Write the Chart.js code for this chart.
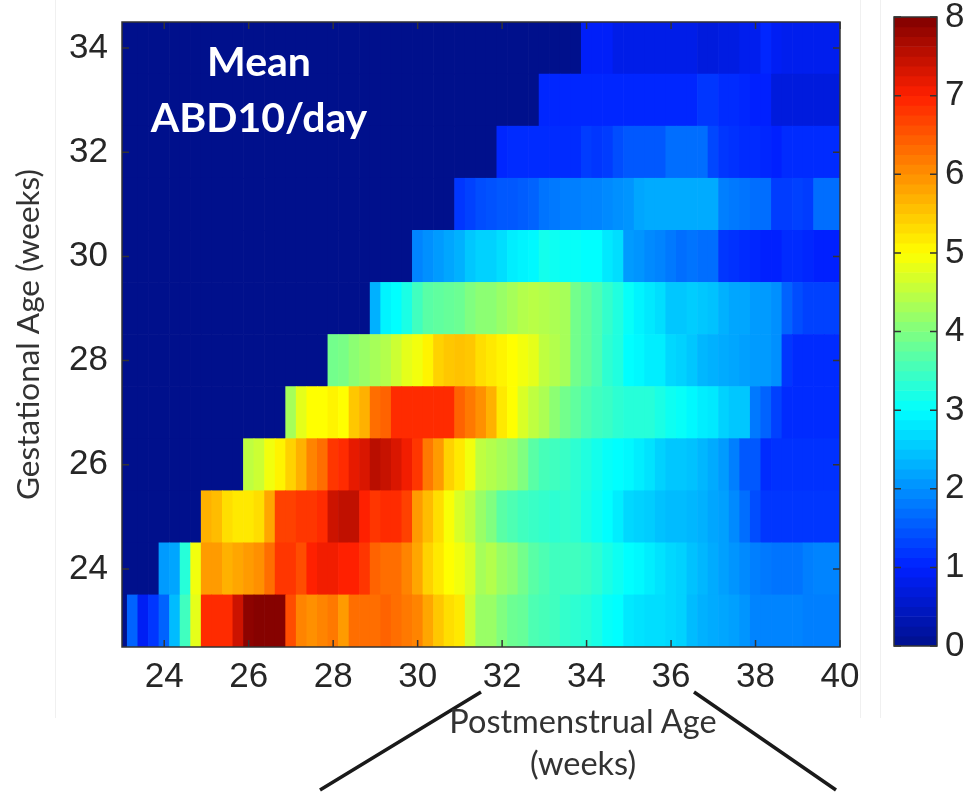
<!DOCTYPE html>
<html>
<head>
<meta charset="utf-8">
<title>Mean ABD10/day</title>
<script src="https://cdn.jsdelivr.net/npm/chart.js@4/dist/chart.umd.min.js"></script>
<style>
    html, body { margin: 0; padding: 0; background: #fff; }
    body { width: 972px; height: 793px; position: relative; overflow: hidden; }
    canvas { position: absolute; top: 0; filter: blur(0.7px); }
    #heatmap { left: 0; }
    #colorbar { left: 860px; }
    .panel { position: absolute; top: 0; height: 718px; border-left: 1px solid #f0f0f0; }
    .note { position: absolute; text-align: center; font-family: Lato, "Open Sans", sans-serif; white-space: nowrap; transform: translate(-50%, -50%); filter: blur(0.4px); }
    .inside { color: #fff; font-size: 41px; font-weight: 700; }
    .under { color: #333; font-size: 32.5px; }
</style>
</head>
<body>
<div class="panel" style="left:55px"></div>
<div class="panel" style="left:860px"></div>
<div class="panel" style="left:880px"></div>
<canvas id="heatmap" width="880" height="793"></canvas>
<canvas id="colorbar" width="112" height="793"></canvas>
<div class="note inside" style="left:259px;top:60px">Mean</div>
<div class="note inside" style="left:259px;top:116px">ABD10/day</div>
<div class="note under" style="left:583px;top:720px">Postmenstrual Age</div>
<div class="note under" style="left:583px;top:762px">(weeks)</div>
<script>
// Postmenstrual age bins, one every quarter week
const pmaBins = [];
for (let w = 23; w <= 40; w += 0.25) pmaBins.push(w);

const xTicks = [24, 26, 28, 30, 32, 34, 36, 38, 40];
const yTicks = [24, 26, 28, 30, 32, 34];
const barTicks = [0, 1, 2, 3, 4, 5, 6, 7, 8];

// Mean ABD10/day by gestational age, each row runs up to week 40
const ga23 = [0, 1.6, 0.9, 1.2, 1.6, 2.4, 3.5, 4.8, 6.9, 6.9,
    6.9, 7.4, 7.9, 7.95, 7.95, 7.95, 6.6, 6.1, 6.0, 6.1,
    6.2, 5.9, 6.3, 6.3, 6.3, 6.4, 6.3, 6.2, 6.1, 5.8,
    5.5, 5.3, 5.2, 4.6, 4.2, 4.2, 4.0, 3.85, 3.8, 3.6,
    3.55, 3.5, 3.4, 3.35, 3.3, 3.2, 3.05, 3.0, 2.8, 2.75,
    2.7, 2.7, 2.65, 2.6, 2.4, 2.3, 2.25, 2.2, 2.15, 2.05,
    1.9, 1.9, 1.9, 1.9, 1.9, 1.85, 1.85, 1.85, 1.85];
const ga24 = [2.1, 2.2, 3.3, 4.9, 5.9, 5.9,
    5.7, 5.8, 5.9, 6.0, 6.3, 6.8, 6.8, 6.6, 7.0, 7.1,
    7.1, 7.0, 7.0, 6.8, 6.4, 6.3, 6.3, 6.1, 5.8, 5.4,
    5.2, 5.0, 4.9, 4.7, 4.3, 4.4, 4.2, 4.1, 3.9, 3.7,
    3.6, 3.5, 3.5, 3.5, 3.45, 3.35, 3.2, 3.1, 3.0, 2.95,
    2.85, 2.75, 2.65, 2.6, 2.45, 2.35, 2.25, 2.15, 2.05, 1.95,
    1.85, 1.8, 1.75, 1.75, 1.75, 1.85, 1.9, 1.9, 1.9];
const ga25 = [5.7, 5.6,
    5.3, 5.2, 5.2, 5.3, 5.8, 6.7, 6.7, 6.8, 6.8, 6.9,
    7.4, 7.5, 7.5, 7.0, 6.8, 6.9, 6.9, 6.7, 5.9, 5.6,
    5.3, 4.95, 4.7, 4.5, 4.2, 4.0, 3.7, 3.6, 3.5, 3.45,
    3.4, 3.35, 3.4, 3.35, 3.2, 3.1, 3.0, 2.85, 2.65, 2.6,
    2.55, 2.45, 2.4, 2.4, 2.35, 2.3, 2.2, 2.15, 1.95, 1.7,
    1.4, 1.2, 1.2, 1.2, 1.2, 1.2, 1.2, 1.2, 1.2];
const ga26 = [4.5, 4.6, 4.9, 5.1, 5.4, 5.7, 6.1, 6.3,
    6.8, 6.9, 7.2, 7.3, 7.55, 7.45, 7.3, 7.1, 6.8, 6.2,
    5.9, 5.4, 5.2, 4.9, 4.5, 4.4, 4.3, 4.2, 4.0, 3.7,
    3.55, 3.5, 3.45, 3.35, 3.25, 3.15, 3.05, 3.0, 2.95, 2.85,
    2.75, 2.6, 2.5, 2.5, 2.45, 2.35, 2.25, 2.1, 1.85, 1.5,
    1.5, 1.1, 1.15, 1.15, 1.15, 1.15, 1.15, 1.15, 1.15];
const ga27 = [4.3, 4.8, 5.0, 5.0,
    5.1, 5.0, 5.5, 5.7, 6.3, 6.4, 6.9, 6.9, 6.9, 6.9,
    6.9, 6.9, 6.4, 6.2, 6.0, 5.7, 5.2, 5.0, 4.7, 4.5,
    4.35, 4.1, 3.9, 3.75, 3.6, 3.5, 3.45, 3.35, 3.3, 3.3,
    3.3, 3.2, 3.1, 3.05, 2.95, 2.85, 2.8, 2.6, 2.5, 2.5,
    1.8, 1.6, 1.3, 1.1, 1.1, 1.1, 1.1, 1.1, 1.1];
const ga28 = [3.9, 3.95, 4.1, 4.2, 4.3, 4.4, 4.6, 4.8, 4.9, 5.1,
    5.4, 5.5, 5.55, 5.5, 5.3, 5.2, 5.1, 5.0, 4.9, 4.8,
    4.5, 4.4, 4.3, 3.9, 3.75, 3.6, 3.35, 3.25, 3.0, 2.95,
    2.85, 2.85, 2.65, 2.6, 2.5, 2.35, 2.3, 2.25, 2.2, 2.15,
    2.1, 2.1, 2.0, 1.2, 1.1, 1.1, 1.1, 1.1, 1.1];
const ga29 = [2.3, 2.9, 3.0, 3.2, 3.5, 3.7,
    3.75, 3.8, 3.85, 4.0, 4.1, 4.1, 4.2, 4.3, 4.4, 4.45,
    4.4, 4.35, 4.3, 3.9, 3.75, 3.6, 3.4, 3.25, 3.05, 2.9,
    2.8, 2.7, 2.5, 2.5, 2.55, 2.5, 2.45, 2.3, 2.2, 2.2,
    2.1, 2.1, 2.0, 1.6, 1.4, 1.3, 1.3, 1.3, 1.3];
const ga30 = [1.9, 2.0,
    2.1, 2.2, 2.3, 2.5, 2.6, 2.6, 2.7, 2.85, 2.9, 2.95,
    3.15, 3.1, 3.05, 3.05, 3.0, 3.0, 2.8, 2.7, 2.1, 2.05,
    1.95, 1.9, 1.8, 1.7, 1.75, 1.7, 1.7, 1.2, 1.15, 1.1,
    1.05, 1.0, 1.0, 1.1, 1.1, 1.05, 1.0, 1.0, 1.0];
const ga31 = [1.2, 1.3, 1.4, 1.45, 1.5, 1.5, 1.55, 1.6,
    1.75, 1.8, 1.85, 1.85, 1.9, 1.9, 1.95, 2.0, 2.05, 2.2,
    2.25, 2.25, 2.25, 2.25, 2.25, 2.25, 2.25, 1.85, 1.8, 1.75,
    1.7, 1.7, 1.25, 1.25, 1.3, 1.25, 1.7, 1.7, 1.7];
const ga32 = [1.05, 1.1, 1.1, 1.1,
    1.1, 1.1, 1.1, 1.1, 1.25, 1.2, 1.25, 1.4, 1.5, 1.5,
    1.5, 1.5, 1.7, 1.7, 1.7, 1.7, 1.35, 1.2, 1.15, 1.1,
    1.1, 1.05, 1.0, 1.1, 1.1, 1.1, 1.1, 1.1, 1.1];
const ga33 = [1.05, 1.05, 1.05, 1.05, 1.05, 1.05, 1.05, 1.05, 1.05, 1.05,
    1.05, 1.05, 1.05, 1.05, 1.05, 1.2, 1.2, 1.1, 1.1, 1.05,
    1.0, 1.0, 0.7, 0.7, 0.7, 0.7, 0.7, 0.7, 0.7];
const ga34 = [0.95, 0.95, 0.95, 0.8, 0.8, 0.8, 0.8, 0.8, 0.8, 0.8,
    0.8, 0.7, 0.7, 0.75, 0.75, 0.85, 0.85, 1.05, 0.9, 0.85,
    0.85, 0.85, 0.85, 0.85, 0.85];

const gaRows = [ga23, ga24, ga25, ga26, ga27, ga28, ga29, ga30, ga31, ga32, ga33, ga34];
const gaWeeks = [23, 24, 25, 26, 27, 28, 29, 30, 31, 32, 33, 34];

// jet colormap over the 0-8 scale, nudged towards the washed blues of the picture
const jetStops = [
    [0, 0, 16, 140], [1, 0, 32, 255], [3, 0, 255, 255], [5, 255, 255, 0], [7, 255, 32, 0], [8, 128, 0, 0]
];
function jet(v) {
    for (let i = 1; i < jetStops.length; i++) {
        const a = jetStops[i - 1], b = jetStops[i];
        if (v <= b[0]) {
            const t = (v - a[0]) / (b[0] - a[0]);
            return `rgb(${a[1] + t * (b[1] - a[1])},${a[2] + t * (b[2] - a[2])},${a[3] + t * (b[3] - a[3])})`;
        }
    }
    return 'rgb(128,0,0)';
}

const tickFont = { family: '"Liberation Sans", Arial, sans-serif', size: 35 };
const inkColor = '#262626';

// MATLAB style box and inward tick marks on all four sides
const axisBox = {
    id: 'axisBox',
    afterDatasetsDraw(chart) {
        const { ctx, chartArea: a, scales } = chart;
        ctx.save();
        ctx.strokeStyle = '#333';
        ctx.lineWidth = 1.5;
        ctx.strokeRect(a.left, a.top, a.right - a.left, a.bottom - a.top);
        ctx.beginPath();
        if (scales.x.options.display) {
            scales.x.ticks.forEach(t => {
                const px = scales.x.getPixelForValue(t.value);
                ctx.moveTo(px, a.bottom); ctx.lineTo(px, a.bottom - 7);
                ctx.moveTo(px, a.top); ctx.lineTo(px, a.top + 7);
            });
        }
        scales.y.ticks.forEach(t => {
            const py = scales.y.getPixelForValue(t.value);
            ctx.moveTo(a.left, py); ctx.lineTo(a.left + 7, py);
            ctx.moveTo(a.right, py); ctx.lineTo(a.right - 7, py);
        });
        ctx.stroke();
        ctx.restore();
    }
};

// The two zoom-out lines under the axis
const connectors = {
    id: 'connectors',
    afterDraw(chart) {
        const ctx = chart.ctx;
        ctx.save();
        ctx.strokeStyle = '#1a1a1a';
        ctx.lineWidth = 3.5;
        ctx.beginPath();
        ctx.moveTo(481, 692); ctx.lineTo(320, 790);
        ctx.moveTo(694, 692); ctx.lineTo(836, 790);
        ctx.stroke();
        ctx.restore();
    }
};

const heatDatasets = gaRows.map((row, r) => {
    const full = new Array(pmaBins.length - row.length).fill(0).concat(row);
    return {
        label: 'GA ' + gaWeeks[r],
        data: full.map((v, i) => ({ x: pmaBins[i], y: [gaWeeks[r] - 0.5, gaWeeks[r] + 0.5] })),
        backgroundColor: full.map(jet),
        borderWidth: 0
    };
});

new Chart(document.getElementById('heatmap'), {
    type: 'bar',
    data: { datasets: heatDatasets },
    plugins: [axisBox, connectors],
    options: {
        responsive: false,
        animation: false,
        grouped: false,
        barPercentage: 1,
        categoryPercentage: 1,
        layout: { padding: { left: 5, right: 40, top: 22, bottom: 86 } },
        plugins: { legend: { display: false }, tooltip: { enabled: false } },
        scales: {
            x: {
                type: 'linear',
                offset: false,
                min: 23,
                max: 40,
                afterBuildTicks: s => { s.ticks = xTicks.map(v => ({ value: v })); },
                afterFit: s => { s.height = 60; s.paddingLeft = 0; s.paddingRight = 0; },
                grid: { display: false },
                border: { display: false },
                ticks: { font: tickFont, color: inkColor, padding: 1, maxRotation: 0, autoSkip: false, callback: v => v }
            },
            y: {
                type: 'linear',
                min: 22.5,
                max: 34.5,
                afterBuildTicks: s => { s.ticks = yTicks.map(v => ({ value: v })); },
                afterFit: s => { s.width = 117; s.paddingTop = 0; s.paddingBottom = 0; },
                grid: { display: false },
                border: { display: false },
                ticks: { font: tickFont, color: inkColor, padding: 6, autoSkip: false, callback: v => v },
                title: {
                    display: true,
                    text: 'Gestational Age (weeks)',
                    color: '#333',
                    font: { family: 'Lato, "Open Sans", sans-serif', size: 31.5 },
                    padding: { top: 5, bottom: 0 }
                }
            }
        }
    }
});

// Colour bar: one thin bar per colormap level
const barLevels = [];
for (let i = 0; i < 64; i++) barLevels.push((i + 0.5) / 8);

new Chart(document.getElementById('colorbar'), {
    type: 'bar',
    data: {
        datasets: [{
            data: barLevels.map(v => ({ y: v, x: 1 })),
            backgroundColor: barLevels.map(jet),
            borderWidth: 0
        }]
    },
    plugins: [axisBox],
    options: {
        indexAxis: 'y',
        responsive: false,
        animation: false,
        barPercentage: 1,
        categoryPercentage: 1,
        layout: { padding: { left: 34, right: 0, top: 17, bottom: 147 } },
        plugins: { legend: { display: false }, tooltip: { enabled: false } },
        scales: {
            x: { type: 'linear', display: false, min: 0, max: 1 },
            y: {
                type: 'linear',
                position: 'right',
                offset: false,
                min: 0,
                max: 8,
                afterBuildTicks: s => { s.ticks = barTicks.map(v => ({ value: v })); },
                afterFit: s => { s.width = 35; s.paddingTop = 0; s.paddingBottom = 0; },
                grid: { display: false },
                border: { display: false },
                ticks: { font: tickFont, color: inkColor, padding: 0, autoSkip: false, callback: v => v }
            }
        }
    }
});
</script>
</body>
</html>
